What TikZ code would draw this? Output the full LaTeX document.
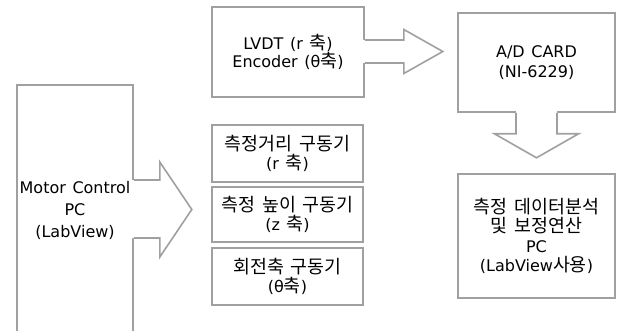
\documentclass[tikz,border=0pt]{standalone}
\usepackage{fontspec}
\setmainfont{DejaVu Sans}[WordSpace=1.3]
\newfontfamily\krf{Noto Sans CJK KR}[Scale=1.15]
\newcommand\kr[1]{{\krf #1}}
\usetikzlibrary{calc}
\definecolor{edge}{RGB}{160,160,160}
\begin{document}
\begin{tikzpicture}[x=1pt,y=-1pt,
  line join=miter,
  box/.style={draw=edge, line width=1.6pt, fill=white, inner sep=0pt, align=center,
    font=\fontsize{16pt}{18.5pt}\selectfont},
  arrline/.style={draw=edge, line width=1.6pt},
  arrfill/.style={fill=white}]
\useasboundingbox (0,0) rectangle (620,331);
\fill[white] (0,0) rectangle (620,331);

% Motor control PC (extends below the picture)
\node[box, minimum width=116pt, minimum height=251pt,
      font=\fontsize{16pt}{22pt}\selectfont] (motor) at (75,210.5)
  {Motor Control\\PC\\(LabView)};

% Sensors
\node[box, minimum width=152pt, minimum height=90pt] (lvdt) at (288,52)
  {LVDT (r \kr{축})\\Encoder (θ\kr{축})};

% A/D card
\node[box, minimum width=157pt, minimum height=99pt,
      font=\fontsize{16pt}{20pt}\selectfont] (ad) at (536.5,62.5)
  {A/D CARD\\(NI-6229)};

% Analysis PC
\node[box, minimum width=157pt, minimum height=124pt,
      font=\fontsize{16pt}{19.5pt}\selectfont] (pc) at (536.5,236)
  {\kr{측정} \kr{데이터분석}\\\kr{및} \kr{보정연산}\\PC\\(LabView\kr{사용})};

% Drives
\node[box, minimum width=151pt, minimum height=57pt] (drr) at (287.5,153.5)
  {\kr{측정거리} \kr{구동기}\\(r \kr{축})};
\node[box, minimum width=151pt, minimum height=55pt] (drz) at (287.5,214.5)
  {\kr{측정} \kr{높이} \kr{구동기}\\(z \kr{축})};
\node[box, minimum width=151pt, minimum height=57pt] (drt) at (287.5,276.5)
  {\kr{회전축} \kr{구동기}\\(θ\kr{축})};

% Block arrow: motor PC -> drives
\coordinate (mo) at ($(motor.east)+(0,-1.5)$);
\fill[arrfill] ($(mo)+(-1.8,-29)$) -- ++(27.8,0) -- ++(0,-18) -- ++(32,47.5)
  -- ++(-32,47.5) -- ++(0,-19) -- ++(-27.8,0) -- cycle;
\draw[arrline] ($(mo)+(0,-29)$) -- ++(26,0) -- ++(0,-18) -- ++(32,47.5)
  -- ++(-32,47.5) -- ++(0,-19) -- ++(-26,0);

% Block arrow: sensors -> A/D card
\coordinate (lo) at ($(lvdt.east)+(0,-0.5)$);
\fill[arrfill] ($(lo)+(-1.8,-11.5)$) -- ++(40.8,0) -- ++(0,-10.5) -- ++(39,22)
  -- ++(-39,22) -- ++(0,-10.5) -- ++(-40.8,0) -- cycle;
\draw[arrline] ($(lo)+(0,-11.5)$) -- ++(39,0) -- ++(0,-10.5) -- ++(39,22)
  -- ++(-39,22) -- ++(0,-10.5) -- ++(-39,0);

% Block arrow: A/D card -> analysis PC
\fill[arrfill] ($(ad.south)+(-20.5,-1.8)$) -- ++(0,22.8) -- ++(-21.5,0) -- ++(42,24)
  -- ++(42,-24) -- ++(-21.5,0) -- ++(0,-22.8) -- cycle;
\draw[arrline] ($(ad.south)+(-20.5,0)$) -- ++(0,21) -- ++(-21.5,0) -- ++(42,24)
  -- ++(42,-24) -- ++(-21.5,0) -- ++(0,-21);
\end{tikzpicture}
\end{document}
